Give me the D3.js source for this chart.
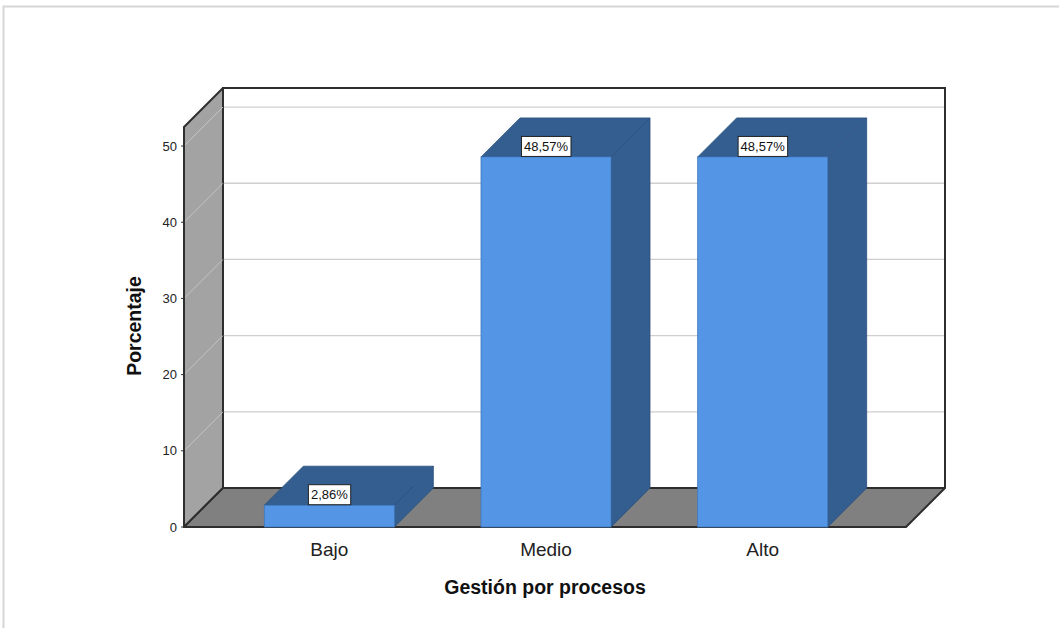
<!DOCTYPE html>
<html>
<head>
<meta charset="utf-8">
<script src="https://cdn.jsdelivr.net/npm/d3@7"></script>
<style>
  html, body { margin: 0; padding: 0; background: #fff; }
  svg { display: block; font-family: "Liberation Sans", Arial, sans-serif; }
</style>
</head>
<body>
<svg id="chart" width="1059" height="628"></svg>
<script>
// Gestión por procesos: percentage per level
const categories = ["Bajo", "Medio", "Alto"];
const percentages = [2.86, 48.57, 48.57];
const valueLabels = ["2,86%", "48,57%", "48,57%"];
const yTicks = [0, 10, 20, 30, 40, 50];

const svg = d3.select("#chart");

// outer frame of the output panel
svg.append("rect")
  .attr("x", 3.5).attr("y", 6.5).attr("width", 1200).attr("height", 800)
  .attr("fill", "none").attr("stroke", "#d6d6d6").attr("stroke-width", 2);

// 3D layout: front plane plus an offset back plane
const DX = 39, DY = -39;
const x0 = 184, x1 = 906;           // front floor span
const y = d3.scaleLinear().domain([0, 52.5]).range([527, 127]);
const x = d3.scaleBand().domain(categories).range([221, 871])
  .paddingInner(0.4).paddingOuter(0.2);

const frameColor = "#2e2e2e";
const pts = a => a.map(p => p.join(",")).join(" ");

// back wall
svg.append("rect")
  .attr("x", x0 + DX).attr("y", y(52.5) + DY)
  .attr("width", x1 - x0).attr("height", y(0) - y(52.5))
  .attr("fill", "#fff");

// gridlines on back wall
svg.append("g").selectAll("line").data(yTicks.filter(t => t > 0)).join("line")
  .attr("x1", x0 + DX).attr("x2", x1 + DX)
  .attr("y1", d => y(d) + DY).attr("y2", d => y(d) + DY)
  .attr("stroke", "#cfcfcf").attr("stroke-width", 1.3);

// back wall frame (top and right)
svg.append("polyline")
  .attr("points", pts([[x0 + DX, y(0) + DY], [x0 + DX, y(52.5) + DY], [x1 + DX, y(52.5) + DY], [x1 + DX, y(0) + DY]]))
  .attr("fill", "none").attr("stroke", frameColor).attr("stroke-width", 2);

// left wall
svg.append("polygon")
  .attr("points", pts([[x0, y(0)], [x0, y(52.5)], [x0 + DX, y(52.5) + DY], [x0 + DX, y(0) + DY]]))
  .attr("fill", "#a3a3a3").attr("stroke", frameColor).attr("stroke-width", 2)
  .attr("stroke-linejoin", "round");

// gridlines on the left wall
svg.append("g").selectAll("line").data(yTicks.filter(t => t > 0)).join("line")
  .attr("x1", x0).attr("x2", x0 + DX)
  .attr("y1", d => y(d)).attr("y2", d => y(d) + DY)
  .attr("stroke", "#c4c4c4").attr("stroke-width", 1);

// floor
svg.append("polygon")
  .attr("points", pts([[x0, y(0)], [x0 + DX, y(0) + DY], [x1 + DX, y(0) + DY], [x1, y(0)]]))
  .attr("fill", "#808080").attr("stroke", frameColor).attr("stroke-width", 2)
  .attr("stroke-linejoin", "round");
// re-stroke left wall front edge above floor
svg.append("line").attr("x1", x0).attr("x2", x0).attr("y1", y(0)).attr("y2", y(52.5))
  .attr("stroke", frameColor).attr("stroke-width", 2);

// y axis ticks and labels
const yAxis = svg.append("g");
yAxis.selectAll("line").data(yTicks).join("line")
  .attr("x1", x0 - 3).attr("x2", x0)
  .attr("y1", d => y(d)).attr("y2", d => y(d))
  .attr("stroke", frameColor).attr("stroke-width", 1);
yAxis.selectAll("text").data(yTicks).join("text")
  .attr("x", x0 - 7).attr("y", d => y(d)).attr("dy", "0.35em")
  .attr("text-anchor", "end").attr("font-size", 13).attr("fill", "#222")
  .text(d => d);

// bars
const data = categories.map((c, i) => ({ c, v: percentages[i], label: valueLabels[i] }));
const front = "#5495e5", dark = "#345e90", edge = "#2b4f7c";
const bars = svg.append("g").selectAll("g").data(data).join("g");
bars.append("polygon") // right side
  .attr("points", d => {
    const r = x(d.c) + x.bandwidth();
    return pts([[r, y(0)], [r, y(d.v)], [r + DX, y(d.v) + DY], [r + DX, y(0) + DY]]);
  })
  .attr("fill", dark).attr("stroke", edge).attr("stroke-width", 0.8);
bars.append("polygon") // top
  .attr("points", d => {
    const l = x(d.c), r = l + x.bandwidth();
    return pts([[l, y(d.v)], [l + DX, y(d.v) + DY], [r + DX, y(d.v) + DY], [r, y(d.v)]]);
  })
  .attr("fill", dark).attr("stroke", edge).attr("stroke-width", 0.8);
bars.append("rect") // front
  .attr("x", d => x(d.c)).attr("y", d => y(d.v))
  .attr("width", x.bandwidth()).attr("height", d => y(0) - y(d.v))
  .attr("fill", front).attr("stroke", "#3f78bd").attr("stroke-width", 0.8);

// value labels
const lab = svg.append("g").selectAll("g").data(data).join("g")
  .attr("transform", d => `translate(${x(d.c) + x.bandwidth() / 2},${y(d.v) - 10.5})`);
lab.append("text")
  .attr("text-anchor", "middle").attr("dy", "0.36em")
  .attr("font-size", 13).attr("fill", "#111")
  .text(d => d.label);
lab.each(function () {
  const g = d3.select(this);
  const b = g.select("text").node().getBBox();
  g.insert("rect", "text")
    .attr("x", b.x - 2.5).attr("y", -10).attr("width", b.width + 5).attr("height", 20)
    .attr("fill", "#fff").attr("stroke", "#222").attr("stroke-width", 1);
});

// category labels
svg.append("g").selectAll("text").data(categories).join("text")
  .attr("x", d => x(d) + x.bandwidth() / 2).attr("y", 556)
  .attr("text-anchor", "middle").attr("font-size", 19).attr("fill", "#222")
  .text(d => d);

// axis titles
svg.append("text")
  .attr("x", 545).attr("y", 594).attr("text-anchor", "middle")
  .attr("font-size", 19.5).attr("font-weight", "bold").attr("fill", "#111")
  .text("Gestión por procesos");
svg.append("text")
  .attr("transform", "translate(141,326) rotate(-90)")
  .attr("text-anchor", "middle")
  .attr("font-size", 19.5).attr("font-weight", "bold").attr("fill", "#111")
  .text("Porcentaje");
</script>
</body>
</html>
